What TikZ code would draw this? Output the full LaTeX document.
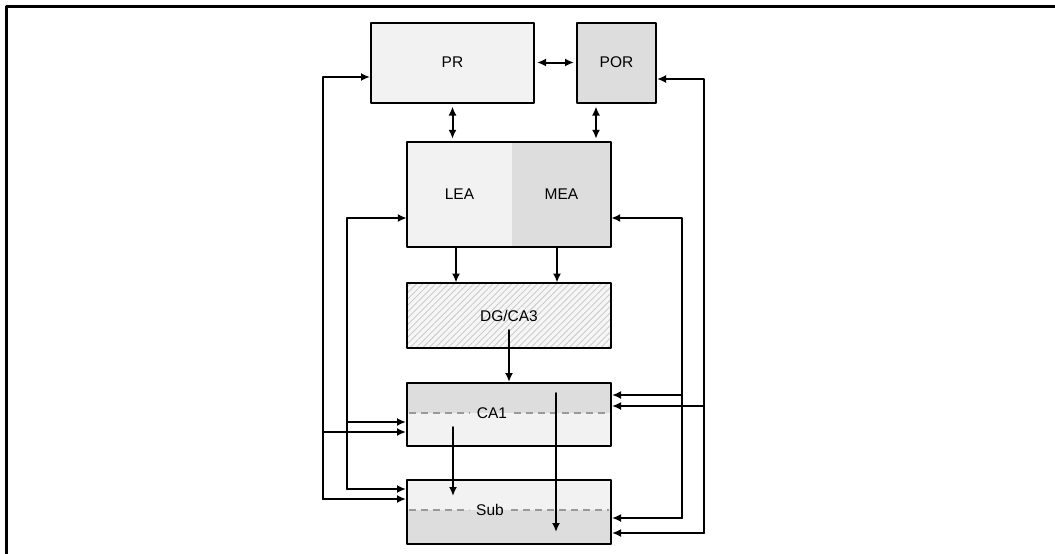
\documentclass[tikz,border=0pt]{standalone}
\usepackage{fontspec}
\setmainfont{Liberation Sans}
\usetikzlibrary{arrows.meta,patterns.meta,backgrounds}

\definecolor{paleG}{gray}{0.95}
\definecolor{midG}{gray}{0.865}
\definecolor{dashG}{gray}{0.6}
\definecolor{hatchG}{gray}{0.8}

\begin{document}
\begin{tikzpicture}[
  x=1pt, y=-1pt,
  line cap=round, line join=round,
  >={Latex[length=9pt,width=8pt]},
  blk/.style={draw, line width=2pt, inner sep=0pt, font=\fontsize{15.5pt}{18pt}\selectfont},
  half/.style={inner sep=0pt, font=\fontsize{15.5pt}{18pt}\selectfont},
  lbl/.style={inner sep=7pt, font=\fontsize{15.5pt}{18pt}\selectfont},
  sep/.style={dashG, line width=2pt, dash pattern=on 7pt off 5pt, line cap=butt},
  con/.style={line width=2pt}
]
  \useasboundingbox (0,0) rectangle (1055,554);

  % ── Frame ─────────────────────────────────────────────────────────────────
  \draw[line width=3pt, line cap=butt] (6,554) -- (6,6) -- (1055,6);

  % ── Blocks ────────────────────────────────────────────────────────────────
  \node[blk, fill=paleG, minimum width=163pt, minimum height=80pt] (pr)  at (452.5,62.5) {PR};
  \node[blk, fill=midG,  minimum width=79pt,  minimum height=80pt] (por) at (616.5,62.5) {POR};

  % entorhinal block, split in two halves
  \node[half, fill=paleG, minimum width=105pt, minimum height=105pt] (lea) at (459.5,194.5) {LEA};
  \node[half, fill=midG,  minimum width=99pt,  minimum height=105pt] (mea) at (561.5,194.5) {MEA};
  \draw[line width=2pt] (lea.north west) rectangle (mea.south east);

  \node[blk, preaction={fill=paleG!70!white},
        pattern={Lines[angle=45,distance=4.5pt,line width=0.9pt]}, pattern color=hatchG,
        minimum width=204pt, minimum height=65pt] (dg) at (509,315.5) {};
  \node[inner sep=2pt, font=\fontsize{15.5pt}{18pt}\selectfont] (dglbl) at (dg.center) {DG/CA3};

  \node[blk, minimum width=204pt, minimum height=63pt] (ca1) at (509,414.5) {};
  \node[lbl] (ca1lbl) at (492,413) {CA1};

  \node[blk, minimum width=204pt, minimum height=64pt] (sub) at (509,512) {};
  \node[lbl] (sublbl) at (490,510) {Sub};

  \begin{scope}[on background layer]
    \fill[midG]  (ca1.north west) rectangle (ca1.east |- ca1lbl);
    \fill[paleG] (ca1.west |- ca1lbl) rectangle (ca1.south east);
    \fill[paleG] (sub.north west) rectangle (sub.east |- sublbl);
    \fill[midG]  (sub.west |- sublbl) rectangle (sub.south east);
  \end{scope}

  % layer separators
  \draw[sep] ([xshift=3pt]ca1.west |- ca1lbl) -- (ca1lbl.west);
  \draw[sep] (ca1lbl.east) -- ([xshift=-3pt]ca1.east |- ca1lbl);
  \draw[sep] ([xshift=3pt]sub.west |- sublbl) -- (sublbl.west);
  \draw[sep] (sublbl.east) -- ([xshift=-3pt]sub.east |- sublbl);

  % ── Direct connections ────────────────────────────────────────────────────
  \draw[con, <->, shorten <=2pt, shorten >=2pt] (pr.east) -- (por.west);
  \draw[con, <->, shorten <=3pt, shorten >=3pt] (pr.south) -- (pr.south |- lea.north);
  \draw[con, <->, shorten <=3pt, shorten >=3pt]
    ([xshift=-20.5pt]por.south) -- ([xshift=-20.5pt]por.south |- mea.north);

  \draw[con, ->] ([xshift=-3.5pt]lea.south) -- ([xshift=-3.5pt]lea.south |- dg.north);
  \draw[con, ->] ([xshift=-4.5pt]mea.south) -- ([xshift=-4.5pt]mea.south |- dg.north);
  \draw[con, ->] ([yshift=-14.5pt]dg.center) -- (dg.center |- ca1.north);

  \draw[con, ->] ([xshift=-56pt,yshift=-12.5pt]ca1.center) -- ([xshift=-56pt,yshift=16pt]sub.center);
  \draw[con, ->] ([xshift=47pt,yshift=21.5pt]ca1.center) -- ([xshift=47pt,yshift=-20pt]sub.center);

  % ── Feedback lines ────────────────────────────────────────────────────────
  \coordinate (a1) at (323,77);  \coordinate (a2) at (323,432); \coordinate (a3) at (323,499);
  \coordinate (b1) at (347,218); \coordinate (b2) at (347,422); \coordinate (b3) at (347,489);
  \coordinate (c1) at (682,218); \coordinate (c2) at (682,395); \coordinate (c3) at (682,518);
  \coordinate (d1) at (704,79);  \coordinate (d2) at (704,406); \coordinate (d3) at (704,533);

  % outer left: to PR, CA1, Sub
  \draw[con, ->] (a3) -- (a1) -- (a1 -| pr.west);
  \draw[con, ->] (a2) -- (a2 -| ca1.west);
  \draw[con, ->] (a3) -- (a3 -| sub.west);

  % inner left: to LEA, CA1, Sub
  \draw[con, ->] (b3) -- (b1) -- (b1 -| lea.west);
  \draw[con, ->] (b2) -- (b2 -| ca1.west);
  \draw[con, ->] (b3) -- (b3 -| sub.west);

  % inner right: to MEA, CA1, Sub
  \draw[con, ->] (c3) -- (c1) -- (c1 -| mea.east);
  \draw[con, ->] (c2) -- (c2 -| ca1.east);
  \draw[con, ->] (c3) -- (c3 -| sub.east);

  % outer right: to POR, CA1, Sub
  \draw[con, ->] (d3) -- (d1) -- (d1 -| por.east);
  \draw[con, ->] (d2) -- (d2 -| ca1.east);
  \draw[con, ->] (d3) -- (d3 -| sub.east);

\end{tikzpicture}
\end{document}
